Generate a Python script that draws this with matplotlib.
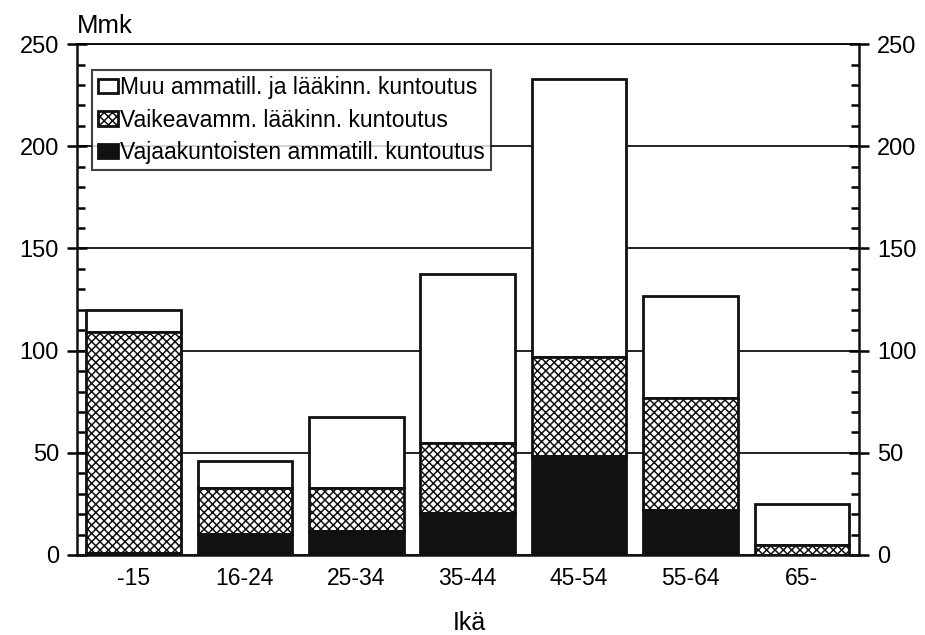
import numpy as np
import matplotlib.pyplot as plt
from matplotlib.ticker import MultipleLocator

plt.rcParams['font.family'] = ['Liberation Sans', 'DejaVu Sans']
plt.rcParams['hatch.linewidth'] = 1.1

# Ikäryhmät ja kustannukset (Mmk)
ages = ['-15', '16-24', '25-34', '35-44', '45-54', '55-64', '65-']
vajaakunt = [0.8, 10.5, 11.5, 20.5, 48.5, 22, 0]        # Vajaakuntoisten ammatill. kuntoutus
vaikeavamm = [108.5, 22.5, 21.5, 34.5, 48.5, 55, 5]     # Vaikeavamm. lääkinn. kuntoutus
muu = [10.5, 13, 34.5, 82.5, 136, 49.5, 20]             # Muu ammatill. ja lääkinn. kuntoutus

fig = plt.figure(figsize=(9.25, 6.35), dpi=100)
ax = fig.add_axes([0.0832, 0.126, 0.8454, 0.8045])

x = np.arange(len(ages))
w = 0.85
v1 = np.array(vajaakunt)
v2 = np.array(vaikeavamm)
v3 = np.array(muu)

b_muu = ax.bar(x, v3, w, bottom=v1 + v2, color='white', edgecolor='#111111',
               linewidth=2, zorder=3, label='Muu ammatill. ja lääkinn. kuntoutus')
b_vaik = ax.bar(x, v2, w, bottom=v1, color='white', edgecolor='#111111',
                hatch='xxxx', linewidth=2, zorder=3, label='Vaikeavamm. lääkinn. kuntoutus')
b_vaja = ax.bar(x, v1, w, color='#111111', edgecolor='#111111',
                linewidth=2, zorder=3, label='Vajaakuntoisten ammatill. kuntoutus')

ax.set_xlim(-0.507, 6.512)
ax.set_ylim(0, 250)
ax.set_xticks(x)
ax.set_xticklabels(ages, fontsize=16.5)
ax.tick_params(axis='x', length=0, pad=9)

ax.yaxis.set_major_locator(MultipleLocator(50))
ax.yaxis.set_minor_locator(MultipleLocator(10))
ax.tick_params(axis='y', which='major', direction='inout', length=14, width=1.8,
               labelsize=17, left=True, right=True, labelleft=True, labelright=True, pad=6)
ax.tick_params(axis='y', which='minor', direction='in', length=6, width=1.8,
               left=True, right=True)

ax.grid(axis='y', which='major', color='#111111', linewidth=1.3, zorder=0)
ax.set_axisbelow(True)

for s in ['left', 'right', 'bottom']:
    ax.spines[s].set_linewidth(1.8)
    ax.spines[s].set_color('#111111')
ax.spines['top'].set_linewidth(1.3)

fig.text(77 / 925, 1 - 33 / 635, 'Mmk', fontsize=18.5, ha='left', va='baseline')
fig.text(469 / 925, 1 - 623 / 635, 'Ikä', fontsize=18, ha='center', va='center')

leg = ax.legend(handles=[b_muu, b_vaik, b_vaja], loc='upper left',
                bbox_to_anchor=(0.019, 0.949), fontsize=16.5, frameon=True, fancybox=False,
                edgecolor='#111111', handlelength=0.9, handleheight=0.6, handletextpad=0.1,
                borderpad=0.25, labelspacing=0.42, borderaxespad=0)
leg.get_frame().set_linewidth(1.5)
leg.set_zorder(5)

fig.savefig('out.png', dpi=100, facecolor='white')
